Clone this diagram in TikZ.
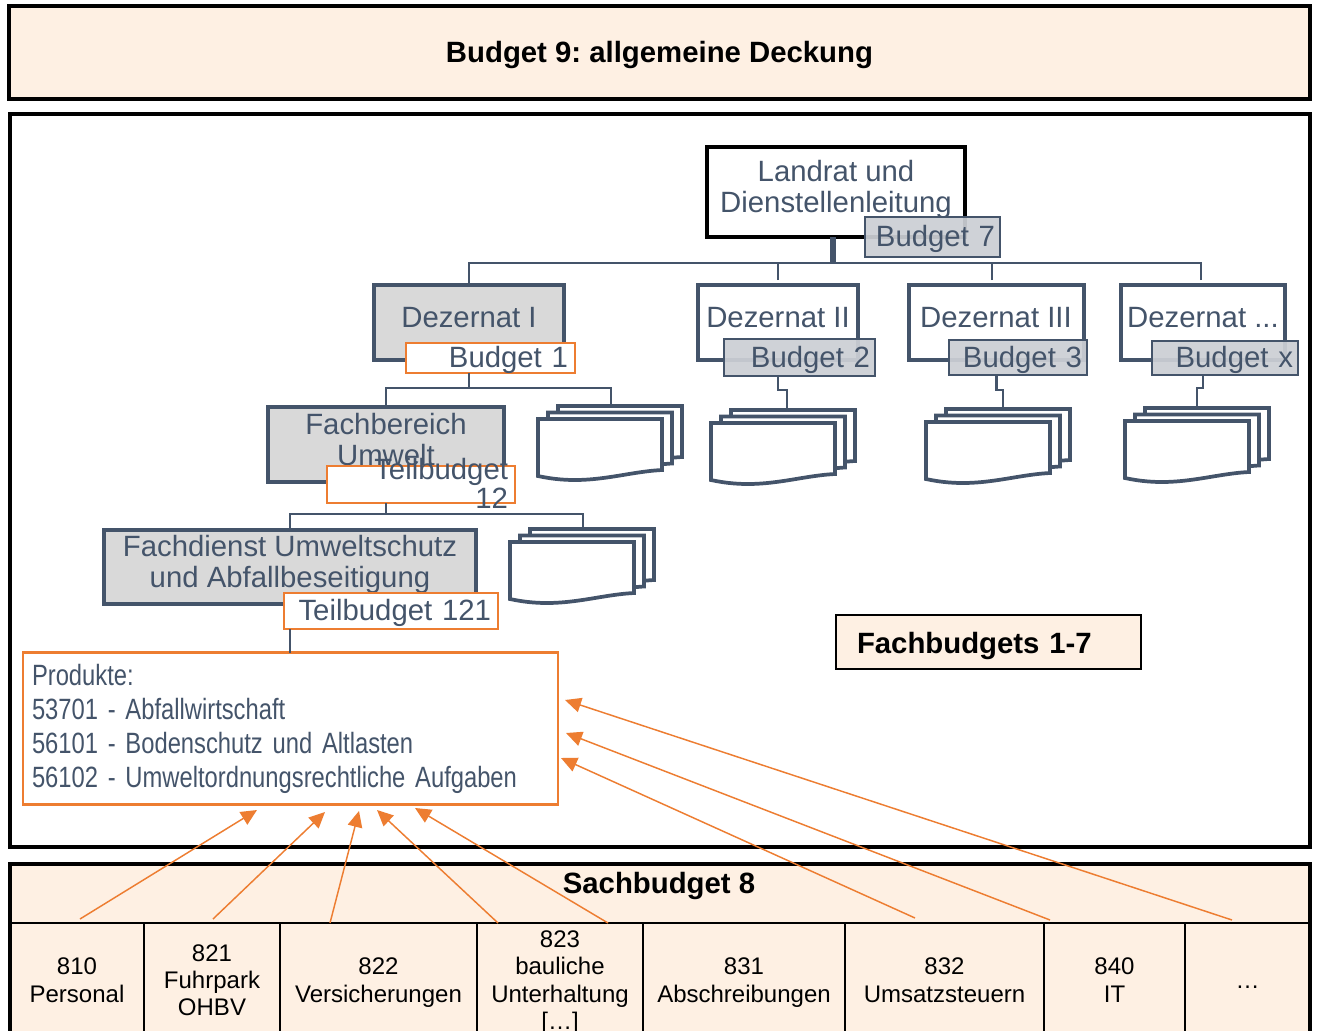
\documentclass[tikz,border=0pt]{standalone}
\usepackage{fontspec}
\setmainfont{Liberation Sans}
\newfontfamily\narrowfont[FakeStretch=0.81,WordSpace=0.4]{Liberation Sans}
\usepackage{tikz}
\usetikzlibrary{arrows.meta}
\definecolor{slate}{HTML}{44546A}
\definecolor{budgetorange}{HTML}{ED7D31}
\definecolor{cream}{HTML}{FEF0E3}
\definecolor{boxgray}{HTML}{D9D9D9}
\definecolor{tabgray}{HTML}{CCCFD5}
\tikzset{
  x=0.75pt,y=-0.75pt,
  boxsize/.style args={#1x#2}{minimum width=#1*0.75pt,minimum height=#2*0.75pt},
  base/.style={inner sep=0pt,outer sep=0pt,align=center,text=slate,
    font=\fontsize{22}{23.25}\selectfont},
  frame/.style={base,draw=black,line width=3pt,text=black},
  unit/.style={base,draw=slate,line width=3pt,fill=white},
  unitgray/.style={unit,fill=boxgray},
  tab/.style args={#1x#2x#3}{base,align=right,inner xsep=#3*0.75pt,boxsize=#1x#2,
    text width={(#1-2*#3)*0.75pt},text height=18.5pt,text depth=4pt,line width=1.9pt},
  tabgrayfill/.style={tab=#1,draw=slate,fill=tabgray,fill opacity=0.93,text opacity=1},
  taborange/.style={tab=#1,draw=budgetorange,line width=2.2pt,fill=white},
  cell/.style={base,draw=black,line width=1.5pt,text=black,text depth=0pt,
    font=\fontsize{18}{20.5}\selectfont},
  tree/.style={draw=slate,line width=2.2pt},
  stem/.style={draw=slate,line width=4.5pt},
  feed/.style={draw=budgetorange,line width=1.1pt,
    -{Triangle[length=12pt,width=11pt,fill=budgetorange]}},
  pics/docstack/.style={code={
    \foreach \dx/\dy in {20/-13,10/-6.5,0/0}
      \draw[draw=slate,line width=2.8pt,fill=white] (\dx,\dy) -- ++(124,0) -- ++(0,51)
        .. controls (\dx+85,\dy+53) and (\dx+50,\dy+68) .. (\dx,\dy+57) -- cycle;
    \coordinate (-top) at (#1,-13);
  }}
}
\begin{document}
\frenchspacing
\begin{tikzpicture}
      \useasboundingbox (0,0) rectangle (1317,1031);
      \node[frame,fill=cream,boxsize=1301x93,text height=18.5pt,text depth=4pt] (deckung) at (659.5,52.5)
        {\bfseries Budget 9: allgemeine Deckung};
      \node[frame,fill=white,boxsize=1300x733] (fach) at (660,480.5) {};
      \node[frame,fill=cream,boxsize=1300x175] (sach) at (660,951.5) {};

      \coordinate (hub) at (833,263);
      \coordinate (hubdez) at (469,388);
      \coordinate (hubfach) at (386,514);
      \coordinate (drop2) at (778,280);
      \coordinate (drop3) at (992,280);
      \coordinate (dropx) at (1201,280);

      \node[unit,draw=black,boxsize=258x90] (landrat) at (836,192) {};
      \node[base] (landrattext) at (836,189) {Landrat und\\Dienstellenleitung};
      \node[tabgrayfill=135x40x5] (budget7) at (932.5,237) {Budget 7};

      \node[unitgray,boxsize=190x75] (dez1) at (469,322.5) {};
      \node[base] (dez1text) at (469,318) {Dezernat I};
      \node[unit,boxsize=160x75] (dez2) at (778,322.5) {};
      \node[base] (dez2text) at (778,318) {Dezernat II};
      \node[unit,boxsize=175x75] (dez3) at (996.5,322.5) {};
      \node[base] (dez3text) at (996,318) {Dezernat III};
      \node[unit,boxsize=164x75] (dezx) at (1203,322.5) {};
      \node[base] (dezxtext) at (1203,318) {Dezernat ...};

      \node[taborange=169x30x7] (budget1) at (490.5,358) {Budget 1};
      \node[tabgrayfill=151x37x5] (budget2) at (799.5,357.5) {Budget 2};
      \node[tabgrayfill=138x35x5] (budget3) at (1018,357.5) {Budget 3};
      \node[tabgrayfill=146x34x5] (budgetx) at (1225,358) {Budget x};

      \pic (stack1) at (538,419) {docstack=73};
      \pic (stack2) at (711,423) {docstack=76};
      \pic (stack3) at (926,422) {docstack=77};
      \pic (stack4) at (1125,421) {docstack=72};
      \pic (stack5) at (510,542) {docstack=73};

      \node[unitgray,boxsize=236x75] (bereich) at (386,444.5) {};
      \node[base] (bereichtext) at (386,440) {Fachbereich\\Umwelt};
      \node[taborange=188x37x7] (budget12) at (421,484.5) {};
      \node[base,anchor=east,align=right,font=\fontsize{22}{21.5}\selectfont] (budget12text) at (508,483.5) {Teilbudget\\12};
      \node[unitgray,boxsize=372x74] (dienst) at (290,567) {};
      \node[base] (diensttext) at (290,564) {Fachdienst Umweltschutz\\und Abfallbeseitigung};
      \node[taborange=214x36x7] (budget121) at (391,611) {Teilbudget 121};

      \node[base,draw=budgetorange,line width=2.2pt,fill=white,boxsize=535x152,
        text width=517*0.75pt,align=left,
        font=\narrowfont\fontsize{22}{25.5}\selectfont] (produkte) at (290.5,728.5)
        {Produkte:\\53701 - Abfallwirtschaft\\56101 - Bodenschutz und Altlasten\\56102 - Umweltordnungsrechtliche Aufgaben};

      \node[frame,line width=1.5pt,fill=cream,boxsize=305x54,text width=263*0.75pt,align=left,
        text height=21.4pt,text depth=4pt] (fachbudgets) at (988.5,642)
        {\bfseries Fachbudgets 1-7};

      \draw[stem] (landrat.south -| hub) -- (hub);
      \draw[tree] (dez1.north) |- (hub);
      \draw[tree] (drop2) |- (hub);
      \draw[tree] (drop3) |- (hub);
      \draw[tree] (dropx) |- (hub);
      \draw[tree] (budget1.south -| hubdez) -- (hubdez);
      \draw[tree] (bereich.north) |- (hubdez);
      \draw[tree] (stack1-top) |- (hubdez);
      \draw[tree] (budget12.south -| hubfach) -- (hubfach);
      \draw[tree] (dienst.north) |- (hubfach);
      \draw[tree] (stack5-top) |- (hubfach);
      \draw[tree] (budget121.south -| dienst) -- (produkte.north -| dienst);
      \draw[tree] (budget2.south -| dez2) -- ++(0,14) -| (stack2-top);
      \draw[tree] (budget3.south -| dez3) -- ++(0,15) -| (stack3-top);
      \draw[tree] (budgetx.south -| dezx) -- ++(0,13) -| (stack4-top);

      \node[base,text=black] (sachtitle) at (659,886) {\bfseries Sachbudget 8};
      \node[cell,boxsize=134x114] (c810) at (77,980) {810\\Personal};
      \node[cell,boxsize=136x114] (c821) at (212,980) {821\\Fuhrpark\\OHBV};
      \node[cell,boxsize=197x114] (c822) at (378.5,980) {822\\Versicherungen};
      \node[cell,boxsize=166x114] (c823) at (560,980) {823\\bauliche\\Unterhaltung\\{[…]}};
      \node[cell,boxsize=202x114] (c831) at (744,980) {831\\Abschreibungen};
      \node[cell,boxsize=199x114] (c832) at (944.5,980) {832\\Umsatzsteuern};
      \node[cell,boxsize=141x114] (c840) at (1114.5,980) {840\\IT};
      \node[cell,boxsize=125x114,text height=12pt] (cmore) at (1247.5,980) {…};

      \coordinate (t1) at (257,810);
      \coordinate (t2) at (325,812);
      \coordinate (t3) at (359,811);
      \coordinate (t4) at (377,810);
      \coordinate (t5) at (415,808);
      \coordinate (t6) at (561,758);
      \coordinate (t7) at (566,733);
      \coordinate (t8) at (565,700);
      \coordinate (f1) at (80,919);
      \coordinate (f2) at (213,919);
      \coordinate (f3) at (330,923);
      \coordinate (f4) at (498,923);
      \coordinate (f5) at (608,923);
      \coordinate (f6) at (915,918);
      \coordinate (f7) at (1050,920);
      \coordinate (f8) at (1232,920);
      \foreach \i in {1,...,8}
        \draw[feed] (f\i) -- (t\i);
    \end{tikzpicture}
\end{document}
